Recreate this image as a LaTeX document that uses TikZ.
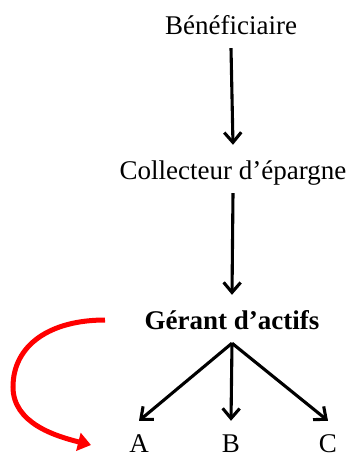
\documentclass[tikz,border=0pt]{standalone}
\usepackage{fontspec}
\setmainfont{Liberation Serif}
\usetikzlibrary{arrows.meta}
\begin{document}
\begin{tikzpicture}[x=1pt,y=-1pt,
  lbl/.style={font=\fontsize{27}{32}\selectfont, anchor=base, text height=24pt, text depth=4pt, inner ysep=10pt, inner xsep=3pt},
  leaf/.style={lbl, text height=30pt, text depth=0pt, inner ysep=1pt},
  flow/.style={line width=3.1pt, -{Straight Barb[length=10pt,width=17pt]}},
  redflow/.style={line width=5pt, red, -{Triangle[length=13pt,width=18pt]}}]
\useasboundingbox (0,0) rectangle (351,459);
\node[lbl] (ben) at (231,34) {Bénéficiaire};
\node[lbl] (col) at (233,179) {Collecteur d’épargne};
\node[lbl, font=\fontsize{27}{32}\selectfont\bfseries] (ger) at (232,329) {Gérant d’actifs};
\node[leaf] (a) at (139,452) {A};
\node[leaf] (b) at (231,452) {B};
\node[leaf] (c) at (328,452) {C};
\draw[flow] (ben.south) -- (col.north);
\draw[flow] (col.south) -- (ger.north);
\draw[flow] (ger.south) -- (a.north);
\draw[flow] (ger.south) -- (b.north);
\draw[flow] (ger.south) -- (c.north);
\coordinate (rs) at (105,320);
\coordinate (rm) at (13,387);
\coordinate (re) at (91,445);
\draw[redflow] (rs) .. controls (50,320) and (13,345) .. (rm) .. controls (13,423) and (55,436) .. (re);
\end{tikzpicture}
\end{document}
